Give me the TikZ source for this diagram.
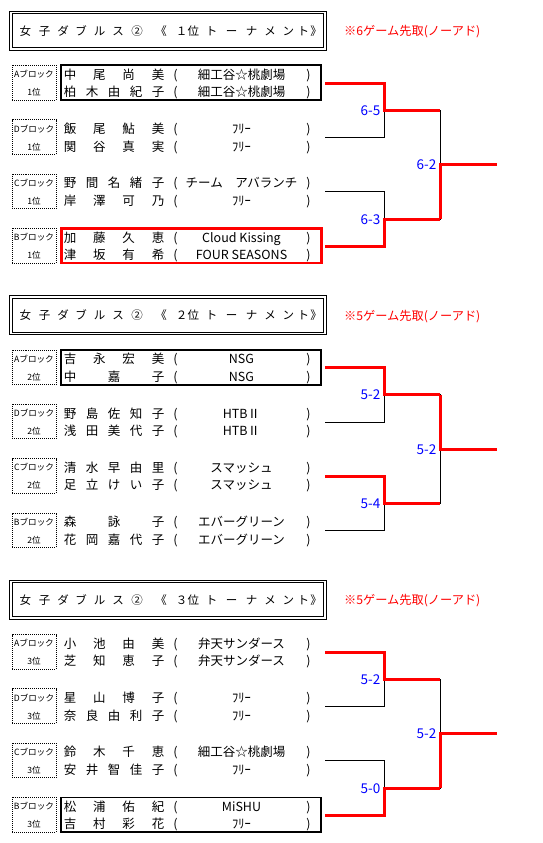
\documentclass[tikz,border=0pt]{standalone}
\usepackage{fontspec}
\setmainfont{Noto Sans CJK JP}
\tikzset{
  nm/.style={inner sep=0pt, text height=10.5pt, text depth=1pt, font=\fontsize{12.5}{12.5}\selectfont},
  lbl/.style={inner sep=0pt, text height=7.3pt, text depth=0.7pt, font=\fontsize{8.6}{8.6}\selectfont},
  ttlch/.style={inner sep=0pt, text height=9.7pt, text depth=0.9pt, font=\fontsize{11.5}{11.5}\selectfont},
  note/.style={inner sep=0pt, anchor=west, text=red, text height=10pt, text depth=1pt, font=\fontsize{12.2}{12.2}\selectfont},
  score/.style={inner sep=0pt, anchor=east, text=blue, text height=10pt, text depth=0pt, font=\fontsize{13.5}{13.5}\selectfont},
  blkbox/.style={draw, dash pattern=on 1pt off 1pt, line width=0.8pt, minimum width=44pt, minimum height=34.5pt, inner sep=0pt},
  ttlouter/.style={draw, line width=0.9pt, minimum width=316.5pt, minimum height=39pt, inner sep=0pt},
  ttlinner/.style={draw, line width=0.9pt, minimum width=311.5pt, minimum height=34pt, inner sep=0pt},
  namebox/.style={minimum width=260pt, minimum height=34.5pt, inner sep=0pt},
  thinln/.style={line width=1pt, black},
  winln/.style={line width=3pt, red},
}
\newcommand\ttl[4]{%
  \node[ttlouter] (#1box) at (167.75,#2-0.5) {};
  \node[ttlinner] (#1ibox) at (167.75,#2-0.5) {};
  \foreach \ch/\xp [count=\ci] in {女/25.5,子/44.7,ダ/63,ブ/81,ル/99.7,ス/118,②/137,《/161,#3/181.7,位/193.3,ト/211.7,ー/231.7,ナ/251.7,メ/270,ン/288.3,ト/303.3,》/316}
    \node[ttlch] (#1c\ci) at (\xp,#2) {\ch};
  \node[note] (#1note) at (344,#2) {#4};
}
\newcommand\blk[3]{%
  \node[blkbox] (b#2#3) at (34,#1+8.25) {};
  \node[lbl] (b#2#3a) at (34,#1) {#2ブロック};
  \node[lbl] (b#2#3b) at (34,#1+18) {#3位};
}
\newcommand\pl[4]{%
  \foreach \ch [count=\ci] in {#3} {
    \pgfmathsetmacro\xx{70+(\ci-1)*88/(#2-1)}
    \node[nm] at (\xx,#1) {\ch};
  }
  \node[nm] at (175.5,#1) {(};
  \node[nm] at (241.5,#1) {#4};
  \node[nm] at (308.5,#1) {)};
}
\newcommand\brk[8]{%
  \pgfmathsetmacro\La{#2+8.75}
  \pgfmathsetmacro\Lb{\La+54.3}
  \pgfmathsetmacro\Lc{\La+108.6}
  \pgfmathsetmacro\Ld{\La+162.9}
  \pgfmathsetmacro\Ma{(\La+\Lb)/2}
  \pgfmathsetmacro\Mb{(\Lc+\Ld)/2}
  \pgfmathsetmacro\Fy{(\Ma+\Mb)/2}
  \coordinate (#1e1) at (325,\La); \coordinate (#1j1) at (384,\La);
  \coordinate (#1e2) at (325,\Lb); \coordinate (#1j2) at (384,\Lb);
  \coordinate (#1e3) at (325,\Lc); \coordinate (#1j3) at (384,\Lc);
  \coordinate (#1e4) at (325,\Ld); \coordinate (#1j4) at (384,\Ld);
  \coordinate (#1m1) at (384,\Ma); \coordinate (#1n1) at (440,\Ma);
  \coordinate (#1m2) at (384,\Mb); \coordinate (#1n2) at (440,\Mb);
  \coordinate (#1f) at (440,\Fy); \coordinate (#1o) at (497,\Fy);
  \draw[thinln] (#1e1) -- (#1j1) -- (#1j2) -- (#1e2);
  \draw[thinln] (#1e3) -- (#1j3) -- (#1j4) -- (#1e4);
  \draw[thinln] (#1m1) -- (#1n1) -- (#1n2) -- (#1m2);
  \draw[winln] (#1e#3) -- (#1j#3) -- (#1m1) -- (#1n1);
  \draw[winln] (#1e#4) -- (#1j#4) -- (#1m2) -- (#1n2);
  \draw[winln] (#1n#5) -- (#1f) -- (#1o);
  \node[score] (#1s1) at (380.5,\Ma) {#6};
  \node[score] (#1s2) at (380.5,\Mb) {#7};
  \node[score] (#1sf) at (436.5,\Fy) {#8};
}
\begin{document}
\begin{tikzpicture}[x=1pt,y=-1pt]
\useasboundingbox (0,0) rectangle (543,843);
\fill[white] (0,0) rectangle (543,843);

\ttl{S1}{31}{１}{※6ゲーム先取(ノーアド)}
\ttl{S2}{315.5}{２}{※5ゲーム先取(ノーアド)}
\ttl{S3}{600}{３}{※5ゲーム先取(ノーアド)}

% highlighted name boxes
\node[namebox, draw=black, line width=2pt] (w1) at (191,74.5+8.25) {};
\node[namebox, draw=red, line width=2.5pt] (w2) at (191.25,237.4+8.25) {};
\node[namebox, draw=black, line width=2pt] (w3) at (191,359+8.25) {};
\node[namebox, draw=black, line width=1.2pt] (w4) at (191,806.4+8.25) {};

% section 1
\blk{74.5}{A}{1}
\pl{74.5}{4}{中,尾,尚,美}{細工谷☆桃劇場}
\pl{92}{5}{柏,木,由,紀,子}{細工谷☆桃劇場}
\blk{128.8}{D}{1}
\pl{128.8}{4}{飯,尾,鮎,美}{ﾌﾘｰ}
\pl{146.3}{4}{関,谷,真,実}{ﾌﾘｰ}
\blk{183.1}{C}{1}
\pl{183.1}{5}{野,間,名,緒,子}{チーム　アバランチ}
\pl{200.6}{4}{岸,澤,可,乃}{ﾌﾘｰ}
\blk{237.4}{B}{1}
\pl{237.4}{4}{加,藤,久,恵}{Cloud Kissing}
\pl{254.9}{4}{津,坂,有,希}{FOUR SEASONS}

% section 2
\blk{359}{A}{2}
\pl{359}{4}{吉,永,宏,美}{NSG}
\pl{376.5}{3}{中,嘉,子}{NSG}
\blk{413.3}{D}{2}
\pl{413.3}{5}{野,島,佐,知,子}{HTBⅡ}
\pl{430.8}{5}{浅,田,美,代,子}{HTBⅡ}
\blk{467.6}{C}{2}
\pl{467.6}{5}{清,水,早,由,里}{スマッシュ}
\pl{485.1}{5}{足,立,け,い,子}{スマッシュ}
\blk{521.9}{B}{2}
\pl{521.9}{3}{森,詠,子}{エバーグリーン}
\pl{539.4}{5}{花,岡,嘉,代,子}{エバーグリーン}

% section 3
\blk{643.5}{A}{3}
\pl{643.5}{4}{小,池,由,美}{弁天サンダース}
\pl{661}{4}{芝,知,恵,子}{弁天サンダース}
\blk{697.8}{D}{3}
\pl{697.8}{4}{星,山,博,子}{ﾌﾘｰ}
\pl{715.3}{5}{奈,良,由,利,子}{ﾌﾘｰ}
\blk{752.1}{C}{3}
\pl{752.1}{4}{鈴,木,千,恵}{細工谷☆桃劇場}
\pl{769.6}{5}{安,井,智,佳,子}{ﾌﾘｰ}
\blk{806.4}{B}{3}
\pl{806.4}{4}{松,浦,佑,紀}{MiSHU}
\pl{823.9}{4}{吉,村,彩,花}{ﾌﾘｰ}

% brackets
\brk{P}{74.5}{1}{4}{2}{6-5}{6-3}{6-2}
\brk{Q}{359}{1}{3}{1}{5-2}{5-4}{5-2}
\brk{R}{643.5}{1}{4}{2}{5-2}{5-0}{5-2}
\end{tikzpicture}
\end{document}
